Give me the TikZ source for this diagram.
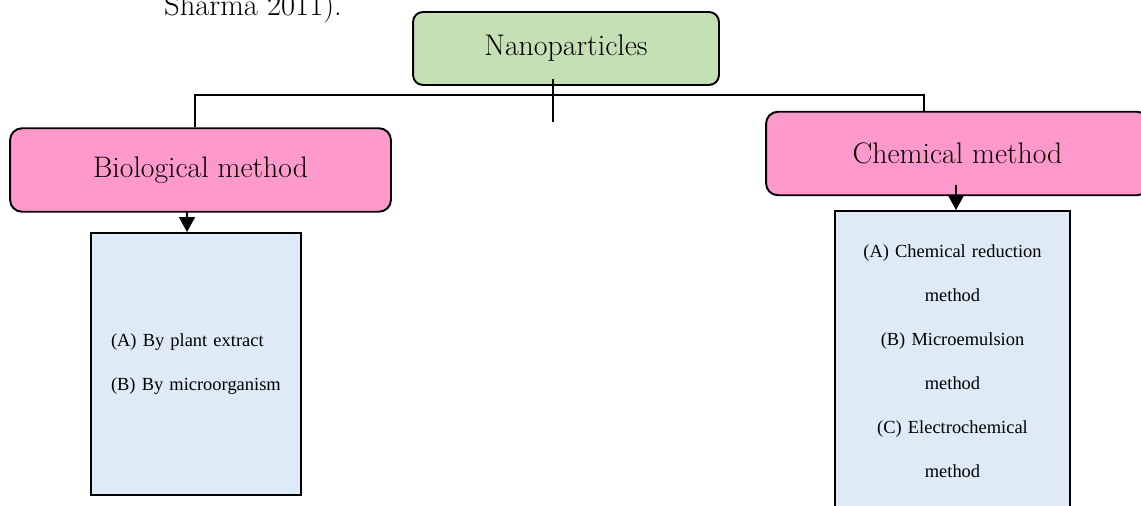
\documentclass[tikz,border=0pt]{standalone}
\usepackage{fontspec}
\newfontfamily\listfont{Liberation Serif}
\usetikzlibrary{
  positioning,
  arrows.meta
}
\definecolor{nanogreen}{HTML}{C5E0B4}
\definecolor{methodpink}{HTML}{FF99CC}
\definecolor{listblue}{HTML}{DEEAF6}
\tikzset{topbox/.style={
  draw, line width=1.1pt,
  rounded corners=0.2cm,
  fill=nanogreen,
  minimum width=6.12cm, minimum height=1.46cm,
  font=\fontsize{17}{20}\selectfont
}}
\tikzset{method/.style={
  draw, line width=1.1pt,
  rounded corners=0.24cm,
  fill=methodpink,
  minimum height=1.67cm,
  font=\fontsize{16.9}{20}\selectfont
}}
\tikzset{listbox/.style={
  draw, line width=1.1pt,
  fill=listblue,
  font=\listfont\fontsize{10.5}{25}\selectfont
}}
\tikzset{link/.style={line width=1.1pt}}
\tikzset{arrow/.style={line width=1.1pt, -{Triangle[length=8.5pt,width=9pt]}}}

\begin{document}
\begin{tikzpicture}[x=0.02cm, y=-0.02cm]
  \useasboundingbox (0,0) rectangle (1141,506);
  \node [anchor=base west, font=\fontsize{17.4}{21}\selectfont] (cite) at (158,16) {Sharma 2011).};
  \node [topbox] (nano) at (566,48.5) {Nanoparticles};
  \node [method, minimum width=7.62cm] (bio) at (200.5,170) {Biological method};
  \node [method, minimum width=7.66cm] (chem) at (957.5,153.5) {Chemical method};
  \node [listbox, minimum width=4.2cm, minimum height=5.24cm,
         text width=3.4cm, inner xsep=0.4cm, align=left] (biolist) at (196,364)
    {(A) By plant extract\\(B) By microorganism};
  \node [listbox, minimum width=4.7cm, minimum height=6cm,
         text width=4.3cm, align=center] (chemlist) at (952.5,361)
    {(A) Chemical reduction\\method\\(B) Microemulsion\\method\\(C) Electrochemical\\method};
  % connectors
  \coordinate (splitL) at (195,95);
  \coordinate (splitR) at (924,95);
  \coordinate (tickTop) at (553,79);
  \coordinate (tickBot) at (553,122);
  \coordinate (bioarrow) at (187,212);
  \coordinate (chemarrow) at (956,185);
  \draw [link] (bio.north -| splitL) -- (splitL) -- (splitR) -- (chem.north -| splitR);
  \draw [link] (tickTop) -- (tickBot);
  \draw [arrow] (bioarrow) -- (bioarrow |- biolist.north);
  \draw [arrow] (chemarrow) -- (chemarrow |- chemlist.north);
\end{tikzpicture}
\end{document}
